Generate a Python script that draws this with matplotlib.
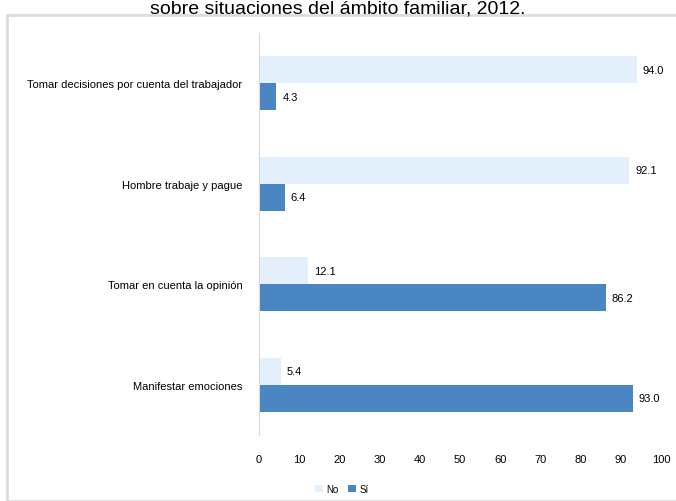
import matplotlib
matplotlib.use("Agg")
import matplotlib.pyplot as plt
from matplotlib.patches import Rectangle
import numpy as np

categories = ["Tomar decisiones por cuenta del trabajador",
              "Hombre trabaje y pague",
              "Tomar en cuenta la opinión",
              "Manifestar emociones"]
no_values = [94.0, 92.1, 12.1, 5.4]
si_values = [4.3, 6.4, 86.2, 93.0]
xticks = [0, 10, 20, 30, 40, 50, 60, 70, 80, 90, 100]
series_names = ["No", "Sí"]

c_no = "#e3effb"
c_si = "#4a86c1"

fig = plt.figure(figsize=(6.76, 5.02), dpi=100)
fig.patches.append(Rectangle((7/676, 0), 1.0, 1 - 16/502, transform=fig.transFigure,
                             fill=False, edgecolor="#dcdcdc", linewidth=2))
fig.text(338/676, 1 - 1/502, "sobre situaciones del ámbito familiar, 2012.",
         ha="center", va="top", fontsize=14, family="Liberation Sans")

ax = fig.add_axes([259/676, 1 - 436/502, 402/676, 402/502])
y = np.arange(len(categories))
h = 0.27
b1 = ax.barh(y - h/2, no_values, height=h, color=c_no, label=series_names[0])
b2 = ax.barh(y + h/2, si_values, height=h, color=c_si, label=series_names[1])
for bars, vals in ((b1, no_values), (b2, si_values)):
    for rect, v in zip(bars, vals):
        ax.text(v + 1.5, rect.get_y() + rect.get_height()/2, f"{v:.1f}",
                va="center", ha="left", fontsize=8, family="Liberation Sans")

ax.set_xlim(0, 100)
ax.set_ylim(len(categories) - 0.5, -0.5)
ax.set_xticks(xticks)
ax.set_xticklabels([str(t) for t in xticks], fontsize=8, family="Liberation Sans")
ax.set_yticks(y)
ax.set_yticklabels(categories, fontsize=8, family="Liberation Sans")
ax.tick_params(axis="both", length=0)
ax.tick_params(axis="x", pad=14)
ax.tick_params(axis="y", pad=12)
for s in ("top", "right", "bottom"):
    ax.spines[s].set_visible(False)
ax.spines["left"].set_color("#d9d9d9")

fig.legend(handles=[b1, b2], labels=series_names, loc="center",
           bbox_to_anchor=(342/676, 1 - 490/502), ncol=2, frameon=False,
           handlelength=0.8, handleheight=0.8, columnspacing=1.0,
           handletextpad=0.4, prop={"family": "Liberation Sans", "size": 7})

fig.savefig("out.png", dpi=100)
